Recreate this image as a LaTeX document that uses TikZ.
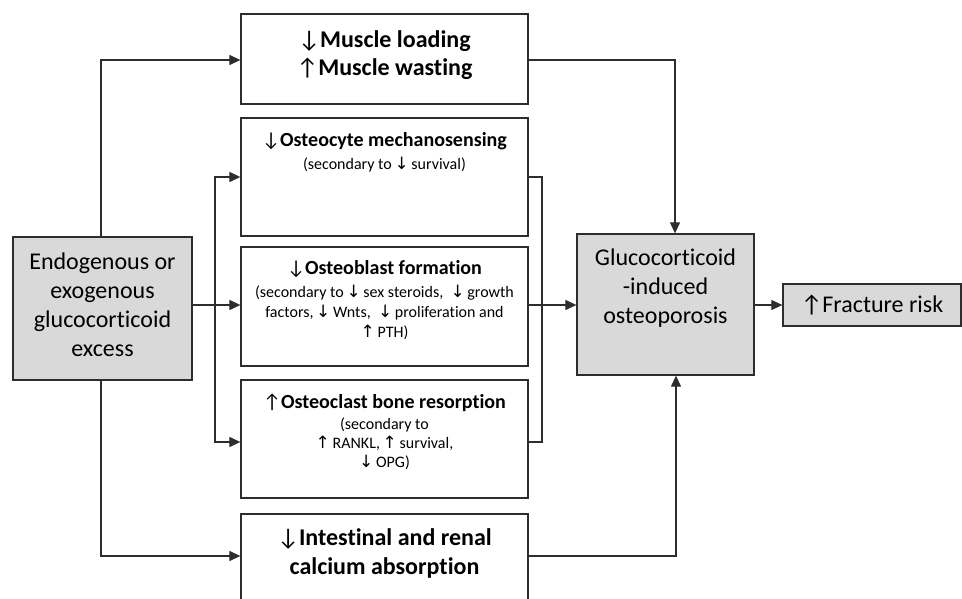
\documentclass[tikz,border=0pt]{standalone}
\usepackage{fontspec}
\setmainfont{Carlito}[Ligatures={NoCommon}]
\newfontfamily\arrfont{DejaVu Sans}
\usetikzlibrary{arrows.meta,calc}
\definecolor{boxgray}{RGB}{217,217,217}
\definecolor{linecol}{RGB}{45,45,45}
\newcommand{\sdn}{{\arrfont\fontsize{17}{20}\selectfont ↓}}
\newcommand{\smup}{{\arrfont\fontsize{17}{20}\selectfont ↑}}
\newcommand{\hdn}{{\mdseries ↓}}
\newcommand{\hup}{{\mdseries ↑}}
\begin{document}
\begin{tikzpicture}[x=1pt,y=-1pt,
  box/.style={draw=linecol, line width=1.3pt, inner sep=0pt, minimum width=287pt},
  graybox/.style={draw=linecol, line width=1.3pt, fill=boxgray, inner sep=0pt},
  big/.style={align=center, font=\fontsize{24}{29}\selectfont},
  bigb/.style={align=center, font=\fontsize{24}{28}\selectfont\bfseries},
  small/.style={align=center, font=\fontsize{16}{20}\selectfont},
  conn/.style={draw=linecol, line width=1.2pt},
  arr/.style={conn, -{Triangle[length=11pt,width=10pt]}}]
\useasboundingbox (0,0) rectangle (962,599);
\clip (0,0) rectangle (962,599);
% boxes
\node[box, minimum height=90pt] (muscle) at (384.5,59) {};
\node[box, minimum height=118pt] (ocyte) at (384.5,177) {};
\node[box, minimum height=119pt] (oblast) at (384.5,306.5) {};
\node[box, minimum height=118pt] (oclast) at (384.5,439) {};
\node[box, minimum height=118pt] (intest) at (384.5,573) {};
\node[graybox, minimum width=179pt, minimum height=143pt] (endo) at (102.5,308.5) {};
\node[graybox, minimum width=177pt, minimum height=141pt] (gio) at (665.5,304.5) {};
\node[graybox, minimum width=178pt, minimum height=42pt, font=\fontsize{24}{29}\selectfont] (frac) at (872,305) {↑Fracture risk};
% texts
\node[bigb] (muscleT) at (384.5,55.5) {\hdn Muscle loading\\\hup Muscle wasting};
\node[small] (ocyteT) at (384.5,152.5) {{\fontsize{20}{24}\selectfont\bfseries \hdn Osteocyte mechanosensing}\\[3pt]
  (secondary to\thinspace\sdn\thinspace survival)};
\node[small] (oblastT) at (384.5,300) {{\fontsize{20}{24}\selectfont\bfseries \hdn Osteoblast formation}\\[3pt]
  (secondary to\thinspace\sdn\thinspace sex steroids,\ \ \sdn\thinspace growth\\
  factors,\thinspace\sdn\thinspace Wnts,\ \ \sdn\thinspace proliferation and\\
  \smup\thinspace PTH)};
\node[small] (oclastT) at (384.5,432) {{\fontsize{20}{24}\selectfont\bfseries \hup Osteoclast bone resorption}\\[1pt]
  (secondary to\\[-1pt]
  \smup\thinspace RANKL,\thinspace\smup\thinspace survival,\\[-1pt]
  \sdn\thinspace OPG)};
\node[bigb, font=\fontsize{24}{29}\selectfont\bfseries] (intestT) at (384.5,553.5) {\hdn Intestinal and renal\\calcium absorption};
\node[big] (endoT) at (102.5,305) {Endogenous or\\exogenous\\glucocorticoid\\excess};
\node[big] (gioT) at (665.5,288) {Glucocorticoid\\-induced\\osteoporosis};
% helper coordinates
\coordinate (midrow) at (0,305);
\coordinate (branch) at (215,305);
\coordinate (brk) at (542,305);
\coordinate (topx) at (675,60);
\coordinate (botx) at (676,556);
\coordinate (leftx) at (101,0);
% connectors
\draw[arr] (endo.north -| leftx) |- (muscle.west |- topx);
\draw[arr] (endo.south -| leftx) |- (intest.west |- botx);
\draw[arr] (endo.east |- midrow) -- (oblast.west |- midrow);
\draw[arr] (branch) |- (ocyte.west);
\draw[arr] (branch) |- ($(oclast.west)+(0,3)$);
\draw[conn] (ocyte.east) -| (brk) |- ($(oclast.east)+(0,3)$);
\draw[arr] (oblast.east |- midrow) -- (gio.west |- midrow);
\draw[arr] (muscle.east |- topx) -| (gio.north -| topx);
\draw[arr] (intest.east |- botx) -| (gio.south -| botx);
\draw[arr] (gio.east |- midrow) -- (frac.west |- midrow);
\end{tikzpicture}
\end{document}
